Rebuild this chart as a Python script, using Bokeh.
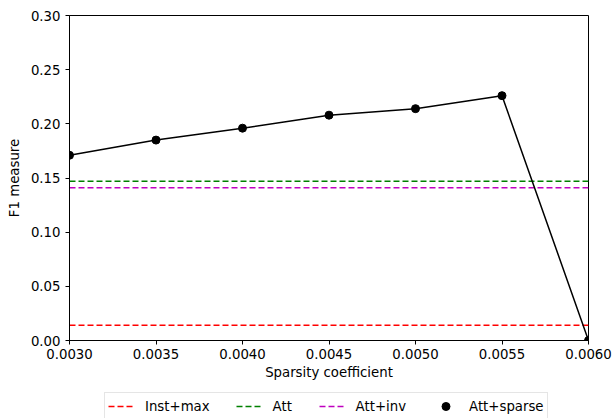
from bokeh.plotting import figure
from bokeh.layouts import column
from bokeh.models import Legend, LegendItem, Range1d, FixedTicker, CustomJSTickFormatter
from bokeh.embed import file_html
from bokeh.resources import INLINE

sparsity = [0.0030, 0.0035, 0.0040, 0.0045, 0.0050, 0.0055, 0.0060]
att_sparse = [0.171, 0.185, 0.196, 0.208, 0.214, 0.226, 0.0]
inst_max = 0.014
att = 0.147
att_inv = 0.141
x_ticks = [0.0030, 0.0035, 0.0040, 0.0045, 0.0050, 0.0055, 0.0060]
y_ticks = [0.00, 0.05, 0.10, 0.15, 0.20, 0.25, 0.30]
labels = ["Inst+max", "Att", "Att+inv", "Att+sparse"]

FONT = "DejaVu Sans"
FS = "13.3px"
DASH = "6 3"


def draw(fig):
    xs = [sparsity[0], sparsity[-1]]
    r1 = fig.line(xs, [inst_max, inst_max], line_color="#ff0000", line_width=1.5, line_dash=DASH)
    r2 = fig.line(xs, [att, att], line_color="#008000", line_width=1.5, line_dash=DASH)
    r3 = fig.line(xs, [att_inv, att_inv], line_color="#bf00bf", line_width=1.5, line_dash=DASH)
    fig.line(sparsity, att_sparse, line_color="black", line_width=1.5)
    r4 = fig.scatter(sparsity, att_sparse, size=8, fill_color="black", line_color="black")
    return [r1, r2, r3, r4]


p = figure(width=614, height=392, output_backend="svg", toolbar_location=None,
           x_range=Range1d(sparsity[0], sparsity[-1]), y_range=Range1d(0, 0.30),
           min_border_left=69, min_border_right=26, min_border_top=15, min_border_bottom=52)
p.xgrid.visible = False
p.ygrid.visible = False
p.outline_line_color = "black"
p.outline_line_alpha = 1
p.outline_line_width = 1
draw(p)

for ax in (p.xaxis[0], p.yaxis[0]):
    ax.axis_line_color = "black"
    ax.major_tick_line_color = "black"
    ax.minor_tick_line_color = None
    ax.major_tick_out = 4
    ax.major_tick_in = 0
    ax.major_label_text_font = FONT
    ax.major_label_text_font_size = FS
    ax.major_label_text_color = "black"
    ax.axis_label_text_font = FONT
    ax.axis_label_text_font_size = FS
    ax.axis_label_text_font_style = "normal"
    ax.axis_label_text_color = "black"

p.xaxis.ticker = FixedTicker(ticks=x_ticks)
p.yaxis.ticker = FixedTicker(ticks=y_ticks)
p.xaxis.formatter = CustomJSTickFormatter(code="return tick.toFixed(4);")
p.yaxis.formatter = CustomJSTickFormatter(code="return tick.toFixed(2);")
p.xaxis.axis_label = "Sparsity coefficient"
p.yaxis.axis_label = "F1 measure"
p.xaxis.major_label_standoff = 4
p.yaxis.major_label_standoff = 5
p.xaxis.axis_label_standoff = 3
p.yaxis.axis_label_standoff = 6

# legend strip below the plot (its renderers lie outside its visible range)
lg = figure(width=614, height=26, output_backend="svg", toolbar_location=None,
            x_range=Range1d(sparsity[0], sparsity[-1]), y_range=Range1d(1, 2),
            x_axis_type=None, y_axis_type=None, min_border=0)
lg.xgrid.visible = False
lg.ygrid.visible = False
lg.outline_line_color = None
rs = draw(lg)

legend = Legend(items=[LegendItem(label=l, renderers=[r]) for l, r in zip(labels, rs)],
                orientation="horizontal", location=(35, -2))
legend.label_text_font = FONT
legend.label_text_font_size = FS
legend.label_text_color = "black"
legend.border_line_color = "#cccccc"
legend.border_line_width = 1
legend.background_fill_color = "white"
legend.background_fill_alpha = 1
legend.spacing = 26
legend.padding = 3
legend.margin = 0
legend.glyph_width = 27
legend.glyph_height = 20
legend.label_height = 14
legend.label_standoff = 10
lg.add_layout(legend, "center")

layout = column(p, lg, spacing=0)
open("out.html", "w").write(file_html(layout, INLINE))
